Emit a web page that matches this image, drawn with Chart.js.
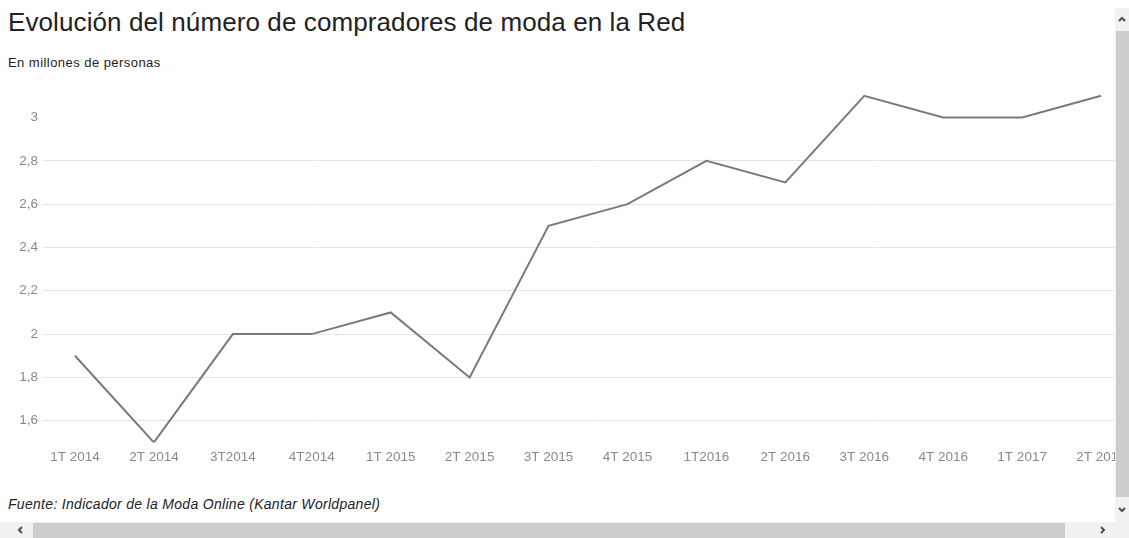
<!DOCTYPE html>
<html>
<head>
<meta charset="utf-8">
<script src="https://cdn.jsdelivr.net/npm/chart.js@4/dist/chart.umd.min.js"></script>
<style>
  html, body { margin: 0; padding: 0; background: #fff; overflow: hidden; }
  body { width: 1129px; height: 538px; position: relative; font-family: "Liberation Sans", Arial, sans-serif; }
  #view { position: absolute; left: 0; top: 0; width: 1115px; height: 522px; overflow: hidden; }
  #title { position: absolute; left: 8px; top: 7px; font-size: 26px; letter-spacing: 0.1px; color: #222; white-space: nowrap; }
  #subtitle { position: absolute; left: 8px; top: 55px; font-size: 13px; letter-spacing: 0.45px; color: #222; white-space: nowrap; }
  #source { position: absolute; left: 8px; top: 496px; font-size: 14px; letter-spacing: 0.3px; font-style: italic; color: #222; white-space: nowrap; }
  #chartBox { position: absolute; left: 0; top: 70px; width: 1150px; height: 400px; }
  .vbar { position: absolute; left: 1115px; top: 8px; width: 14px; height: 514px; background: #f1f1f1; }
  .vthumb { position: absolute; left: 1116px; top: 31px; width: 13px; height: 466px; background: #cdcdcd; }
  .hbar { position: absolute; left: 0; top: 522px; width: 1129px; height: 16px; background: #f1f1f1; }
  .hthumb { position: absolute; left: 33px; top: 523px; width: 1032px; height: 15px; background: #cdcdcd; }
  .arrow { position: absolute; width: 10px; height: 10px; }
</style>
</head>
<body>
<div id="view">
  <div id="title">Evolución del número de compradores de moda en la Red</div>
  <div id="subtitle">En millones de personas</div>
  <div id="chartBox"><canvas id="lineChart"></canvas></div>
  <div id="source">Fuente: Indicador de la Moda Online (Kantar Worldpanel)</div>
</div>
<div class="vbar"></div>
<div class="vthumb"></div>
<div class="hbar"></div>
<div class="hthumb"></div>
<svg class="arrow" style="left:1117px;top:14px;" viewBox="0 0 10 10"><polyline points="2,7 5,4 8,7" fill="none" stroke="#505050" stroke-width="2"/></svg>
<svg class="arrow" style="left:1117px;top:505px;" viewBox="0 0 10 10"><polyline points="2,3 5,6 8,3" fill="none" stroke="#505050" stroke-width="2"/></svg>
<svg class="arrow" style="left:15px;top:525px;" viewBox="0 0 10 10"><polyline points="7,2 4,5 7,8" fill="none" stroke="#505050" stroke-width="2"/></svg>
<svg class="arrow" style="left:1098px;top:525px;" viewBox="0 0 10 10"><polyline points="3,2 6,5 3,8" fill="none" stroke="#505050" stroke-width="2"/></svg>
<script>
const quarters = ['1T 2014', '2T 2014', '3T2014', '4T2014', '1T 2015', '2T 2015', '3T 2015',
  '4T 2015', '1T2016', '2T 2016', '3T 2016', '4T 2016', '1T 2017', '2T 2017'];
const buyers = [1.9, 1.5, 2.0, 2.0, 2.1, 1.8, 2.5, 2.6, 2.8, 2.7, 3.1, 3.0, 3.0, 3.1];
const yTicks = [1.6, 1.8, 2.0, 2.2, 2.4, 2.6, 2.8, 3.0];

const fmt = v => String(Math.round(v * 10) / 10).replace('.', ',');
const tickFont = { family: '"Liberation Sans", Arial, sans-serif', size: 13.5 };

new Chart(document.getElementById('lineChart').getContext('2d'), {
  type: 'line',
  data: {
    datasets: [{
      data: buyers.map((v, i) => ({ x: i, y: v })),
      borderColor: '#7a7a7a',
      borderWidth: 2,
      pointRadius: 0,
      tension: 0,
      fill: false
    }]
  },
  options: {
    responsive: true,
    maintainAspectRatio: false,
    animation: false,
    layout: { padding: { top: 15, left: 0, right: 0, bottom: 0 } },
    plugins: { legend: { display: false }, tooltip: { enabled: false } },
    scales: {
      x: {
        type: 'linear',
        min: -0.405,
        max: 13.62,
        grid: { display: false, drawTicks: false },
        border: { display: false },
        afterFit: s => { s.height = 27.6; },
        ticks: {
          stepSize: 1,
          includeBounds: false,
          autoSkip: false,
          maxRotation: 0,
          padding: 7,
          color: '#8a8a8a',
          font: tickFont,
          callback: v => quarters[v] ?? ''
        }
      },
      y: {
        min: 1.5,
        max: 3.15,
        afterFit: s => { s.width = 43; },
        afterBuildTicks: s => { s.ticks = yTicks.map(v => ({ value: v })); },
        border: { display: false },
        grid: {
          drawTicks: false,
          color: c => (c.tick && c.tick.value === 3.0) ? 'rgba(0,0,0,0)' : '#e4e4e4'
        },
        ticks: {
          padding: 5,
          color: '#8a8a8a',
          font: tickFont,
          callback: v => fmt(v)
        }
      }
    }
  }
});
</script>
</body>
</html>
